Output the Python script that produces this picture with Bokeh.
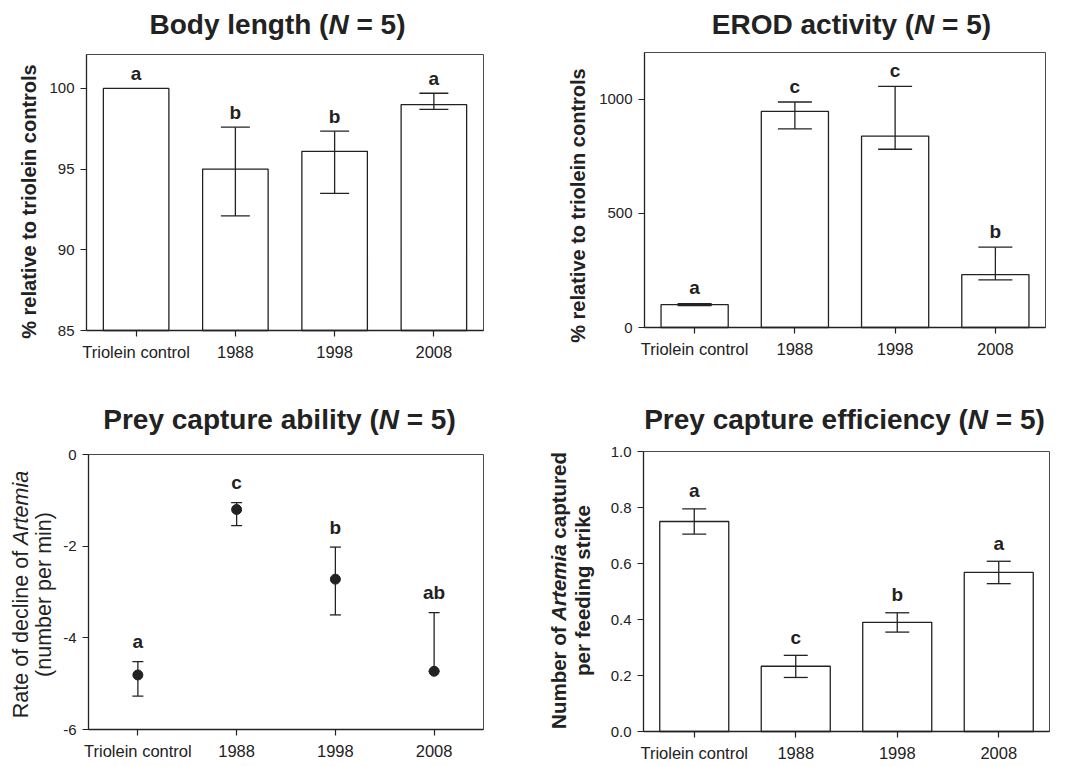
import math

from bokeh.plotting import figure
from bokeh.models import (Range1d, ColumnDataSource, Whisker, TeeHead,
                          FixedTicker)
from bokeh.layouts import column, row
from bokeh.embed import file_html
from bokeh.resources import INLINE
from bokeh.core.properties import value

# ---------------------------------------------------------------- data
groups = ["Triolein control", "1988", "1998", "2008"]

# Body length, % relative to triolein controls (mean, lower / upper error)
body_mean = [100.0, 95.0, 96.1, 99.0]
body_lower = [None, 92.1, 93.5, 98.7]
body_upper = [None, 97.6, 97.35, 99.7]
body_letters = ["a", "b", "b", "a"]

# EROD activity, % relative to triolein controls
erod_mean = [100, 947, 839, 232]
erod_lower = [96, 870, 781, 209]
erod_upper = [104, 988, 1057, 352]
erod_letters = ["a", "c", "c", "b"]

# Prey capture ability: rate of decline of Artemia (number per min)
ability_mean = [-4.81, -1.20, -2.72, -4.73]
ability_lower = [-5.27, -1.55, -3.50, -4.73]
ability_upper = [-4.52, -1.05, -2.02, -3.45]
ability_letters = ["a", "c", "b", "ab"]

# Prey capture efficiency: Artemia captured per feeding strike
eff_mean = [0.75, 0.233, 0.39, 0.568]
eff_lower = [0.705, 0.193, 0.355, 0.528]
eff_upper = [0.795, 0.272, 0.424, 0.608]
eff_letters = ["a", "c", "b", "a"]

body_ticks = [85, 90, 95, 100]
erod_ticks = [0, 500, 1000]
ability_ticks = [-6, -4, -2, 0]
eff_ticks = [0.0, 0.2, 0.4, 0.6, 0.8, 1.0]

# ---------------------------------------------------------------- style
FONT = "Liberation Sans"
INK = "#222222"
XPOS = [i + 0.5 for i in range(len(groups))]   # category centres

# Helvetica / Arial advance widths (1/1000 em) used to lay out mixed-style text
_REG = {" ": 278, "(": 333, ")": 333, "=": 584, "5": 556, "%": 889,
        "A": 667, "B": 667, "D": 722, "E": 667, "N": 722, "O": 778,
        "P": 667, "R": 722, "a": 556, "b": 556, "c": 500, "d": 556,
        "e": 556, "f": 278, "g": 556, "h": 556, "i": 222, "k": 500,
        "l": 222, "m": 833, "n": 556, "o": 556, "p": 556, "r": 333,
        "s": 500, "t": 278, "u": 556, "v": 500, "y": 500}
_BOLD = {" ": 278, "(": 333, ")": 333, "=": 584, "5": 556, "%": 889,
         "A": 722, "B": 722, "D": 722, "E": 667, "N": 722, "O": 778,
         "P": 667, "R": 722, "a": 556, "b": 611, "c": 556, "d": 611,
         "e": 556, "f": 333, "g": 611, "h": 611, "i": 278, "k": 556,
         "l": 278, "m": 889, "n": 611, "o": 611, "p": 611, "r": 389,
         "s": 556, "t": 333, "u": 611, "v": 556, "y": 556}


def text_width(s, size, bold):
    table = _BOLD if bold else _REG
    return sum(table.get(ch, 556) for ch in s) / 1000.0 * size


class Geom:
    """Panel geometry: figure size, plot box (pixels) and its y extent."""

    def __init__(self, w, h, left, top, bw, bh, y0, y1):
        self.w, self.h = w, h
        self.left, self.top, self.bw, self.bh = left, top, bw, bh
        self.y0, self.y1 = y0, y1

    def kx(self):
        return 4.0 / self.bw

    def ky(self):
        return (self.y1 - self.y0) / self.bh

    def x_range(self):
        return Range1d(-self.left * self.kx(),
                       (self.w - self.left) * self.kx())

    def y_range(self):
        return Range1d(self.y0 - (self.h - self.top - self.bh) * self.ky(),
                       self.y1 + self.top * self.ky())

    def to_data(self, lx, ly):
        return ((lx - self.left) * self.kx(),
                self.y1 - (ly - self.top) * self.ky())


def make_panel(g, ticks, labels):
    p = figure(width=g.w, height=g.h, x_range=g.x_range(),
               y_range=g.y_range(), output_backend="svg",
               toolbar_location=None, min_border=0)
    p.xgrid.visible = False
    p.ygrid.visible = False
    p.outline_line_color = None
    p.background_fill_color = "white"
    p.border_fill_color = "white"
    # plot box
    p.quad(left=[0], right=[4], bottom=[g.y0], top=[g.y1],
           fill_color=None, line_color="#4a4a4a", line_width=1)
    xa, ya = p.xaxis[0], p.yaxis[0]
    xa.fixed_location = g.y0
    xa.bounds = (0, 4)
    ya.fixed_location = 0
    ya.bounds = (g.y0, g.y1)
    for ax in (xa, ya):
        ax.axis_line_color = INK
        ax.axis_line_width = 1.3
        ax.major_tick_line_color = INK
        ax.major_tick_line_width = 1.2
        ax.major_tick_in = 0
        ax.major_tick_out = 6
        ax.minor_tick_line_color = None
        ax.major_label_text_font = FONT
        ax.major_label_text_color = INK
    ya.major_label_text_font_size = "15px"
    ya.major_label_standoff = 6
    ya.ticker = FixedTicker(ticks=ticks)
    ya.major_label_overrides = dict(zip(ticks, labels))
    xa.major_label_text_font_size = "16.5px"
    xa.major_label_standoff = 6
    xa.ticker = FixedTicker(ticks=XPOS)
    xa.major_label_overrides = dict(zip(XPOS, groups))
    return p


def rich(p, g, parts, cx, cy, size, vertical=False):
    """Draw a run of (text, bold, italic) pieces centred on (cx, cy)."""
    widths = [text_width(t, size, b) for t, b, i in parts]
    pos = -sum(widths) / 2.0
    for (t, b, i), w in zip(parts, widths):
        lead = len(t) - len(t.lstrip(" "))
        start = pos + text_width(" " * lead, size, b)
        if vertical:
            lx, ly = cx, cy - start
        else:
            lx, ly = cx + start, cy
        x, y = g.to_data(lx, ly)
        style = ("bold italic" if (b and i) else "bold" if b
                 else "italic" if i else "normal")
        p.text(x=[x], y=[y], text=[t.strip(" ")],
               text_font=value(FONT), text_font_size=f"{size}px",
               text_font_style=style, text_color=INK,
               text_align="left",
               text_baseline="middle" if vertical else "alphabetic",
               angle=math.pi / 2 if vertical else 0)
        pos += w


def title(p, g, name, cx, cy, size=28):
    rich(p, g, [(name + " (", True, False), ("N", True, True),
                (" = 5)", True, False)], cx, cy, size)


def error_bars(p, lower, upper, cap, level="annotation"):
    keep = [k for k in range(len(groups)) if lower[k] is not None]
    src = ColumnDataSource(dict(base=[XPOS[k] for k in keep],
                                lower=[lower[k] for k in keep],
                                upper=[upper[k] for k in keep]))
    head = dict(size=cap, line_color=INK, line_width=1.3)
    p.add_layout(Whisker(base="base", lower="lower", upper="upper",
                         source=src, dimension="height",
                         line_color=INK, line_width=1.3, level=level,
                         upper_head=TeeHead(**head),
                         lower_head=TeeHead(**head)))


def letters(p, g, labels, mean, upper, gap_px, size=19):
    tops = [u if u is not None else m for m, u in zip(mean, upper)]
    ys = [t + gap_px * g.ky() for t in tops]
    src = ColumnDataSource(dict(x=XPOS, y=ys, t=labels))
    p.text(x="x", y="y", text="t", source=src,
           text_font=value(FONT), text_font_style="bold",
           text_font_size=f"{size}px", text_color=INK,
           text_align="center", text_baseline="alphabetic")


def bars(p, g, mean, width):
    p.vbar(x=XPOS, top=mean, bottom=g.y0, width=width,
           fill_color="white", line_color=INK, line_width=1.3)


# ---------------------------------------------------------------- body length
g1 = Geom(540, 370, 86, 54, 397, 276, 85, 102.1)
p1 = make_panel(g1, body_ticks, [str(t) for t in body_ticks])
bars(p1, g1, body_mean, 0.66)
error_bars(p1, body_lower, body_upper, 29)
letters(p1, g1, body_letters, body_mean, body_upper, 15)
title(p1, g1, "Body length", 277, 24)
rich(p1, g1, [("% relative to triolein controls", True, False)],
     28, 201, 20, vertical=True)

# ---------------------------------------------------------------- EROD
g2 = Geom(529, 370, 104, 52, 401, 275, 0, 1205)
p2 = make_panel(g2, erod_ticks, [str(t) for t in erod_ticks])
bars(p2, g2, erod_mean, 0.67)
error_bars(p2, erod_lower, erod_upper, 34)
letters(p2, g2, erod_letters, erod_mean, erod_upper, 16)
title(p2, g2, "EROD activity", 311, 24)
rich(p2, g2, [("% relative to triolein controls", True, False)],
     37, 205, 20, vertical=True)

# ---------------------------------------------------------------- ability
g3 = Geom(540, 396, 88, 84, 395, 275, -6, 0)
p3 = make_panel(g3, ability_ticks, [str(t) for t in ability_ticks])
error_bars(p3, ability_lower, ability_upper, 11, level="underlay")
p3.scatter(x=XPOS, y=ability_mean, size=10, marker="circle",
           fill_color=INK, line_color=INK)
letters(p3, g3, ability_letters, ability_mean, ability_upper, 20)
title(p3, g3, "Prey capture ability", 279, 49)
rich(p3, g3, [("Rate of decline of ", False, False), ("Artemia", False, True)],
     20, 224, 21.5, vertical=True)
rich(p3, g3, [("(number per min)", False, False)], 43, 224, 21.5,
     vertical=True)

# ---------------------------------------------------------------- efficiency
g4 = Geom(529, 396, 103, 81, 406, 280, 0, 1)
p4 = make_panel(g4, eff_ticks, [f"{t:.1f}" for t in eff_ticks])
bars(p4, g4, eff_mean, 0.68)
error_bars(p4, eff_lower, eff_upper, 24)
letters(p4, g4, eff_letters, eff_mean, eff_upper, 18)
title(p4, g4, "Prey capture efficiency", 304, 49)
rich(p4, g4, [("Number of ", True, False), ("Artemia", True, True),
              (" captured", True, False)], 18, 220, 20.5, vertical=True)
rich(p4, g4, [("per feeding strike", True, False)], 42, 220, 20.5,
     vertical=True)

layout = column(row(p1, p2, spacing=0), row(p3, p4, spacing=0), spacing=0)

open("out.html", "w").write(file_html(layout, INLINE))
